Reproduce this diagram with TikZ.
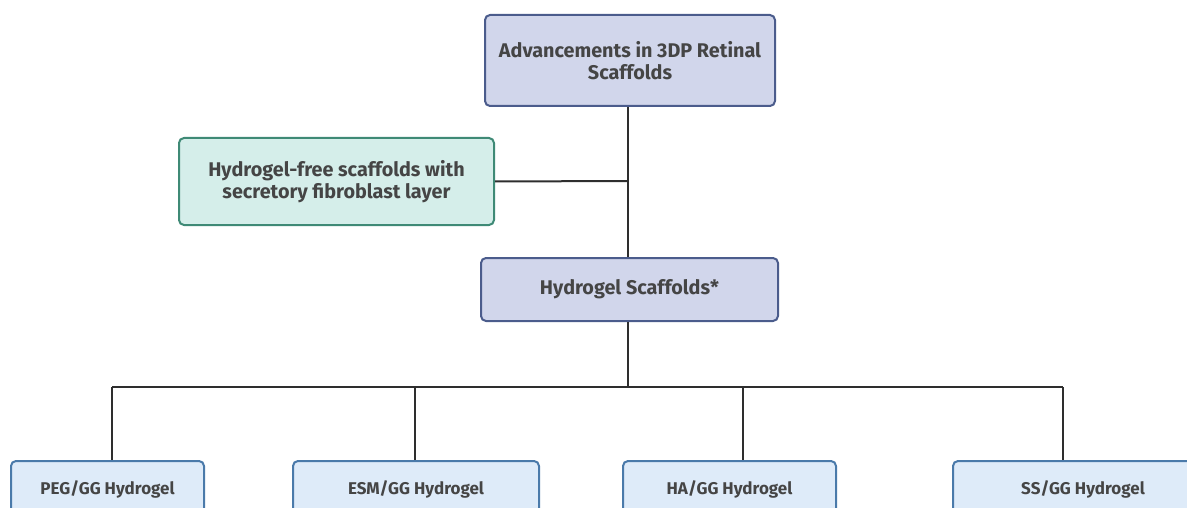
\documentclass[tikz,border=0pt]{standalone}
\usepackage{fontspec}
\setmainfont{Fira Sans}
\definecolor{txt}{HTML}{454545}
\definecolor{lavfill}{HTML}{D1D6EB}
\definecolor{lavdraw}{HTML}{4B5C8C}
\definecolor{grfill}{HTML}{D5EEEA}
\definecolor{grdraw}{HTML}{3F8A76}
\definecolor{blfill}{HTML}{DEEBF9}
\definecolor{bldraw}{HTML}{4A7AAA}
\definecolor{lin}{HTML}{2E2E2E}
\begin{document}
\begin{tikzpicture}[x=1pt,y=-1pt,
  box/.style={rectangle,rounded corners=5pt,line width=2pt,inner sep=0pt,anchor=north west,
    font=\fontsize{19.8}{22}\selectfont\bfseries,text=txt,align=center},
  lav/.style={box,fill=lavfill,draw=lavdraw},
  grn/.style={box,fill=grfill,draw=grdraw},
  blu/.style={box,fill=blfill,draw=bldraw,font=\fontsize{17}{20}\selectfont\bfseries},
  conn/.style={draw=lin,line width=2pt}]
\useasboundingbox (0,0) rectangle (1187,508);
\clip (0,0) rectangle (1187,508);
\node[lav,minimum width=290pt,minimum height=91pt] (top) at (484,14) {Advancements in 3DP Retinal\\Scaffolds};
\node[grn,minimum width=315pt,minimum height=87pt] (free) at (178,137) {Hydrogel-free scaffolds with\\secretory fibroblast layer};
\node[lav,minimum width=297pt,minimum height=63pt] (hyd) at (480,257) {Hydrogel Scaffolds*};
\node[blu,minimum width=193pt,minimum height=100pt,text depth=46pt] (peg) at (10,460) {PEG/GG Hydrogel};
\node[blu,minimum width=246pt,minimum height=100pt,text depth=46pt] (esm) at (292,460) {ESM/GG Hydrogel};
\node[blu,minimum width=213pt,minimum height=100pt,text depth=46pt] (ha) at (622,460) {HA/GG Hydrogel};
\node[blu,minimum width=260pt,minimum height=100pt,text depth=46pt] (ss) at (952,460) {SS/GG Hydrogel};
\coordinate (j1) at (628,181);
\coordinate (bus) at (628,387);
\draw[conn] (top.south -| j1) -- (hyd.north -| j1);
\draw[conn] (free.east) -- (j1);
\draw[conn] (hyd.south -| bus) -- (bus);
\draw[conn] (112,387) -- (1063,387);
\draw[conn] (112,387) -- (peg.north -| 112,0);
\draw[conn] (415,387) -- (esm.north -| 415,0);
\draw[conn] (743,387) -- (ha.north -| 743,0);
\draw[conn] (1063,387) -- (ss.north -| 1063,0);
\end{tikzpicture}
\end{document}
